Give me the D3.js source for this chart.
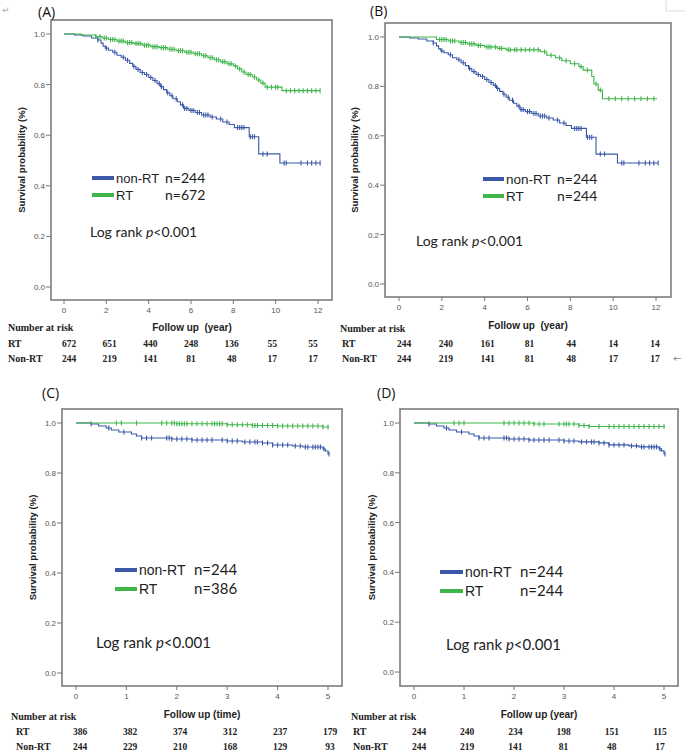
<!DOCTYPE html>
<html>
<head>
<meta charset="utf-8">
<script src="https://cdn.jsdelivr.net/npm/d3@7"></script>
<style>
body { margin: 0; background: #fff; }
svg { display: block; }
</style>
</head>
<body>
<div id="container"></div>
<script>
let w = 685;
let h = 754;

// ---- DATA ----
// non-RT cohort, 12 year follow up (panels A and B): [time, survival]
let nonRtLongSteps = [[0,1],[0.5,0.996],[0.9,0.992],[1.3,0.984],[1.6,0.976],[1.75,0.964],[1.85,0.952],[1.95,0.944],
  [2.1,0.936],[2.3,0.928],[2.5,0.916],[2.7,0.908],[2.9,0.896],[3.1,0.884],[3.25,0.872],[3.4,0.86],[3.6,0.848],
  [3.8,0.84],[4.0,0.828],[4.2,0.816],[4.4,0.804],[4.55,0.792],[4.7,0.78],[4.85,0.768],[5.0,0.756],[5.15,0.744],
  [5.35,0.732],[5.5,0.72],[5.65,0.706],[5.9,0.698],[6.2,0.69],[6.5,0.68],[6.9,0.672],[7.2,0.664],[7.5,0.652],
  [7.8,0.642],[8.05,0.63],[8.75,0.594],[9.2,0.526],[10.2,0.49],[12.1,0.49]];
let nonRtLongCensor = [1.6,2.0,2.4,2.8,3.0,3.3,3.5,3.7,3.9,4.1,4.3,4.5,4.6,4.9,5.1,5.3,5.6,5.7,5.8,6.0,6.1,6.3,6.4,
  6.6,6.7,6.8,7.0,7.4,7.7,8.2,8.3,8.4,8.5,8.8,8.9,9.0,9.4,9.6,10.4,10.5,11.2,11.5,11.7,11.9,12.1];

// RT n=672 (panel A)
let rtASteps = [[0,1],[0.8,0.996],[1.5,0.99],[1.8,0.984],[2.1,0.978],[2.5,0.972],[2.9,0.966],[3.3,0.962],[3.7,0.956],
  [4.1,0.95],[4.5,0.946],[4.9,0.94],[5.3,0.934],[5.7,0.928],[6.1,0.922],[6.5,0.914],[6.8,0.906],[7.1,0.898],
  [7.4,0.89],[7.7,0.882],[8.0,0.874],[8.2,0.862],[8.4,0.85],[8.6,0.84],[8.9,0.83],[9.1,0.818],[9.3,0.806],
  [9.5,0.79],[10.3,0.776],[12.1,0.776]];
let rtACensor = [1.5,1.7,1.9,2.0,2.2,2.3,2.4,2.6,2.7,2.8,3.0,3.1,3.2,3.4,3.5,3.6,3.8,3.9,4.0,4.2,4.3,4.4,4.6,4.7,
  4.8,5.0,5.1,5.2,5.4,5.5,5.6,5.8,5.9,6.0,6.2,6.3,6.4,6.6,6.7,6.9,7.0,7.2,7.3,7.5,7.6,7.8,7.9,8.1,8.3,8.5,8.7,
  8.8,9.0,9.2,9.4,9.6,9.8,10.0,10.1,10.5,10.7,10.9,11.1,11.3,11.5,11.7,11.9,12.1];

// RT n=244 matched (panel B)
let rtBSteps = [[0,1],[1.75,0.99],[2.3,0.984],[2.8,0.978],[3.2,0.972],[3.6,0.966],[4.0,0.96],[4.6,0.954],[5.0,0.948],
  [6.6,0.94],[6.9,0.926],[7.3,0.916],[7.6,0.904],[8.0,0.892],[8.4,0.88],[8.6,0.866],[9.0,0.84],[9.1,0.81],
  [9.3,0.785],[9.5,0.75],[12.05,0.75]];
let rtBCensor = [1.9,2.0,2.1,2.2,2.4,2.5,2.6,2.9,3.0,3.1,3.3,3.4,3.5,3.7,3.8,4.1,4.2,4.3,4.5,4.7,4.8,5.1,5.2,5.4,
  5.5,5.7,5.9,6.1,6.3,6.5,6.8,7.1,7.5,7.8,8.2,8.5,8.8,9.2,9.4,9.8,10.1,10.4,10.7,11.0,11.3,11.6,11.9];

// non-RT cohort, 5 year follow up (panels C and D)
let nonRtShortSteps = [[0,1],[0.3,0.996],[0.45,0.988],[0.6,0.98],[0.7,0.972],[0.85,0.964],[1.1,0.956],[1.2,0.948],
  [1.3,0.94],[1.9,0.936],[2.3,0.932],[3.0,0.928],[3.3,0.924],[3.7,0.92],[3.9,0.912],[4.3,0.908],[4.5,0.904],
  [4.9,0.896],[4.95,0.888],[5.0,0.876],[5.02,0.876]];
let nonRtShortCensor = [0.3,0.65,0.95,1.3,1.4,1.5,1.8,1.85,1.9,2.0,2.1,2.2,2.3,2.4,2.5,2.6,2.7,2.9,3.0,3.1,3.2,
  3.35,3.45,3.55,3.6,3.7,3.8,3.9,4.0,4.1,4.2,4.35,4.45,4.55,4.6,4.7,4.75,4.8,4.85,4.92,5.02];

// RT n=386 (panel C)
let rtCSteps = [[0,1],[2.0,0.997],[3.0,0.993],[3.5,0.99],[4.0,0.988],[4.9,0.984],[5.02,0.984]];
let rtCCensor = [0.8,0.9,1.2,1.7,1.8,1.9,1.95,2.0,2.05,2.1,2.15,2.2,2.3,2.4,2.5,2.6,2.7,2.75,2.8,2.85,2.9,3.0,
  3.1,3.2,3.3,3.4,3.5,3.55,3.6,3.7,3.8,3.9,4.0,4.1,4.2,4.3,4.4,4.5,4.6,4.7,4.8,4.9,5.0];

// RT n=244 matched (panel D)
let rtDSteps = [[0,1],[2.4,0.996],[3.3,0.99],[3.5,0.986],[5.02,0.986]];
let rtDCensor = [0.8,0.9,1.0,1.8,1.9,2.0,2.1,2.2,2.3,2.4,2.5,2.6,2.9,3.0,3.05,3.1,3.2,3.3,3.4,3.5,3.7,3.9,
  4.0,4.1,4.2,4.3,4.4,4.5,4.6,4.7,4.8,4.9,5.0];

// ticks
let xTicksLong = [0,2,4,6,8,10,12];
let xTicksShort = [0,1,2,3,4,5];
let yTicks = [0,0.2,0.4,0.6,0.8,1.0];

// number at risk
let riskA_RT = [672,651,440,248,136,55,55];
let riskA_nonRT = [244,219,141,81,48,17,17];
let riskB_RT = [244,240,161,81,44,14,14];
let riskB_nonRT = [244,219,141,81,48,17,17];
let riskC_RT = [386,382,374,312,237,179];
let riskC_nonRT = [244,229,210,168,129,93];
let riskD_RT = [244,240,234,198,151,115];
let riskD_nonRT = [244,219,141,81,48,17];

// legend counts
let nA = ["n=244","n=672"];
let nB = ["n=244","n=244"];
let nC = ["n=244","n=386"];
let nD = ["n=244","n=244"];

let blue = "#3b58a8";
let green = "#3fb54a";

// SVG
let viz = d3.select("#container").append("svg")
  .attr("width", w)
  .attr("height", h)
  .style("background-color", "#fff");

let bis = d3.bisector(d => d[0]).right;
function survAt(steps, t){
  return steps[Math.max(0, bis(steps, t) - 1)][1];
}

function drawPanel(p){
  let g = viz.append("g");
  let x = d3.scaleLinear().domain(p.xDomain).range(p.xRange);
  let y = d3.scaleLinear().domain([0,1]).range(p.yRange);
  let r = d3.scaleLinear().domain([0, p.xTicks.length - 1]).range(p.riskRange);

  // frame
  g.append("rect")
    .attr("x", p.frame[0]).attr("y", p.frame[1])
    .attr("width", p.frame[2] - p.frame[0]).attr("height", p.frame[3] - p.frame[1])
    .attr("fill", "#fff").attr("stroke", "#7d7d7d").attr("stroke-width", 1.6);

  // y ticks
  g.selectAll(".yt").data(yTicks).enter().append("line")
    .attr("x1", p.frame[0] - 5).attr("x2", p.frame[0])
    .attr("y1", d => y(d)).attr("y2", d => y(d))
    .attr("stroke", "#777").attr("stroke-width", 1);
  g.selectAll(".yl").data(yTicks).enter().append("text")
    .attr("x", p.frame[0] - 6).attr("y", d => y(d) + 3)
    .attr("text-anchor", "end")
    .style("font", "8px 'Liberation Sans', Arial, sans-serif").attr("fill", "#555")
    .text(d => d3.format(".1f")(d));

  // x ticks
  g.selectAll(".xt").data(p.xTicks).enter().append("line")
    .attr("x1", d => x(d)).attr("x2", d => x(d))
    .attr("y1", p.frame[3]).attr("y2", p.frame[3] + 4)
    .attr("stroke", "#777").attr("stroke-width", 1);
  g.selectAll(".xl").data(p.xTicks).enter().append("text")
    .attr("x", d => x(d)).attr("y", p.xLabelY + 3)
    .attr("text-anchor", "middle")
    .style("font", "8px 'Liberation Sans', Arial, sans-serif").attr("fill", "#555")
    .text(d => d);

  // axis titles
  g.append("text")
    .attr("transform", `translate(${p.yTitleX},${(p.frame[1] + p.frame[3]) / 2}) rotate(-90)`)
    .attr("text-anchor", "middle").attr("dy", "0.35em")
    .style("font", "bold 9.5px 'Liberation Sans', Arial, sans-serif").attr("fill", "#222")
    .text("Survival probability (%)");
  g.append("text")
    .attr("x", p.xTitle[0]).attr("y", p.xTitle[1] + 3.5)
    .attr("text-anchor", "middle")
    .style("font", "bold 10px 'Liberation Sans', Arial, sans-serif").attr("fill", "#222")
    .attr("xml:space", "preserve")
    .text(p.xTitleText);

  // panel label
  g.append("text")
    .attr("x", p.label[0]).attr("y", p.label[1] + 5)
    .style("font", "14px 'Open Sans', 'Liberation Sans', sans-serif").attr("fill", "#111")
    .text(p.labelText);

  // curves
  let lineMaker = d3.line().x(d => x(d[0])).y(d => y(d[1])).curve(d3.curveStepAfter);
  p.series.forEach(s => {
    g.append("path").datum(s.steps)
      .attr("d", lineMaker)
      .attr("fill", "none").attr("stroke", s.color).attr("stroke-width", 1.1);
    g.selectAll(null).data(s.censor).enter().append("line")
      .attr("x1", d => x(d)).attr("x2", d => x(d))
      .attr("y1", d => y(survAt(s.steps, d)) - 2.5)
      .attr("y2", d => y(survAt(s.steps, d)) + 2.5)
      .attr("stroke", s.color).attr("stroke-width", 1.1);
  });

  // legend
  let names = ["non-RT", "RT"];
  let cols = [blue, green];
  names.forEach((nm, i) => {
    let ly = p.legend.y[i];
    g.append("line")
      .attr("x1", p.legend.x[0]).attr("x2", p.legend.x[1])
      .attr("y1", ly).attr("y2", ly)
      .attr("stroke", cols[i]).attr("stroke-width", 4);
    g.append("text")
      .attr("x", p.legend.x[1] + 2).attr("y", ly + p.legend.fs * 0.36)
      .style("font", `${p.legend.fs}px 'Liberation Sans', Arial, sans-serif`).attr("fill", "#222")
      .text(nm);
    g.append("text")
      .attr("x", p.legend.nx).attr("y", ly + p.legend.fs * 0.36)
      .style("font", `${p.legend.nfs}px Lato, 'Open Sans', sans-serif`).attr("fill", "#222")
      .text(p.nText[i]);
  });

  // log rank
  let lr = g.append("text")
    .attr("x", p.logRank[0]).attr("y", p.logRank[1] + p.logRank[2] * 0.36)
    .style("font", `${p.logRank[2]}px Lato, 'Open Sans', sans-serif`).attr("fill", "#222");
  lr.append("tspan").text("Log rank ");
  lr.append("tspan").style("font-style", "italic").text("p");
  lr.append("tspan").text("<0.001");

  // number at risk table
  let tf = "bold 10px 'Liberation Serif', 'Times New Roman', serif";
  g.append("text")
    .attr("x", p.risk.headX).attr("y", p.risk.headY + 3.5)
    .style("font", tf).attr("fill", "#222")
    .text("Number at risk");
  ["RT", "Non-RT"].forEach((nm, i) => {
    let ry = p.risk.rows[i] + 3.5;
    g.append("text")
      .attr("x", p.risk.labX).attr("y", ry)
      .style("font", tf).attr("fill", "#222")
      .text(nm);
    g.selectAll(null).data(p.riskVals[i]).enter().append("text")
      .attr("x", (d, j) => r(j)).attr("y", ry)
      .attr("text-anchor", "middle")
      .style("font", "bold 9.5px 'Liberation Serif', 'Times New Roman', serif").attr("fill", "#222")
      .text(d => d);
  });
}

let panels = [
  {
    frame: [51, 20, 332, 300], xDomain: [0, 12], xRange: [64, 318], yRange: [287, 34],
    xTicks: xTicksLong, xLabelY: 310, yTitleX: 22, xTitle: [192, 327], xTitleText: "Follow up  (year)",
    label: [38, 12], labelText: "(A)",
    series: [{steps: nonRtLongSteps, censor: nonRtLongCensor, color: blue},
             {steps: rtASteps, censor: rtACensor, color: green}],
    legend: {x: [92, 114], y: [178, 195], nx: 165, fs: 13, nfs: 14}, nText: nA,
    logRank: [90, 232, 14],
    risk: {headX: 8, headY: 327, labX: 8, rows: [343, 358]}, riskRange: [69, 313],
    riskVals: [riskA_RT, riskA_nonRT]
  },
  {
    frame: [385, 23, 671, 297], xDomain: [0, 12], xRange: [399, 656], yRange: [284, 37],
    xTicks: xTicksLong, xLabelY: 307, yTitleX: 355, xTitle: [528, 325], xTitleText: "Follow up  (year)",
    label: [370, 11], labelText: "(B)",
    series: [{steps: nonRtLongSteps, censor: nonRtLongCensor, color: blue},
             {steps: rtBSteps, censor: rtBCensor, color: green}],
    legend: {x: [483, 504], y: [179, 196], nx: 557, fs: 13.5, nfs: 14}, nText: nB,
    logRank: [416, 241, 14],
    risk: {headX: 340, headY: 328, labX: 342, rows: [343, 358]}, riskRange: [404, 655],
    riskVals: [riskB_RT, riskB_nonRT]
  },
  {
    frame: [62, 409, 342, 686], xDomain: [0, 5], xRange: [76, 328], yRange: [673, 423],
    xTicks: xTicksShort, xLabelY: 696, yTitleX: 33, xTitle: [202, 714], xTitleText: "Follow up (time)",
    label: [42, 393], labelText: "(C)",
    series: [{steps: nonRtShortSteps, censor: nonRtShortCensor, color: blue},
             {steps: rtCSteps, censor: rtCCensor, color: green}],
    legend: {x: [115, 137], y: [570, 589], nx: 194, fs: 14, nfs: 15}, nText: nC,
    logRank: [96, 643, 15],
    risk: {headX: 11, headY: 716, labX: 16, rows: [731, 746]}, riskRange: [80, 330],
    riskVals: [riskC_RT, riskC_nonRT]
  },
  {
    frame: [400, 409, 678, 686], xDomain: [0, 5], xRange: [414, 664], yRange: [672, 423],
    xTicks: xTicksShort, xLabelY: 696, yTitleX: 372, xTitle: [539, 714], xTitleText: "Follow up (year)",
    label: [377, 393], labelText: "(D)",
    series: [{steps: nonRtShortSteps, censor: nonRtShortCensor, color: blue},
             {steps: rtDSteps, censor: rtDCensor, color: green}],
    legend: {x: [440, 463], y: [572, 591], nx: 520, fs: 14, nfs: 15}, nText: nD,
    logRank: [446, 645, 15],
    risk: {headX: 351, headY: 716, labX: 353, rows: [731, 746]}, riskRange: [419, 660],
    riskVals: [riskD_RT, riskD_nonRT]
  }
];

panels.forEach(drawPanel);

// stray editor marks from the source document
viz.append("text").attr("x", 2).attr("y", 13)
  .style("font", "9px 'DejaVu Sans', sans-serif").attr("fill", "#aaa").text("↵");
viz.append("text").attr("x", 673).attr("y", 362)
  .style("font", "10px 'DejaVu Sans', sans-serif").attr("fill", "#888").text("←");
viz.append("rect").attr("x", 666).attr("y", -1).attr("width", 20).attr("height", 12)
  .attr("fill", "none").attr("stroke", "#ddd");
</script>
</body>
</html>
